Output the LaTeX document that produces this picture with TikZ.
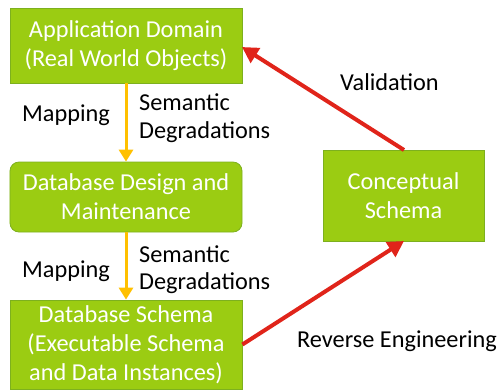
\documentclass[tikz,border=0pt]{standalone}
\usepackage{fontspec}
\setmainfont{Carlito}
\usetikzlibrary{arrows.meta}
\definecolor{boxgreen}{RGB}{155,204,18}
\definecolor{boxedge}{RGB}{125,176,30}
\definecolor{flowyellow}{RGB}{255,192,0}
\definecolor{flowred}{RGB}{224,36,26}
\tikzset{
  stage/.style={draw=boxedge, line width=0.8bp, fill=boxgreen, text=white,
    align=center, inner sep=0pt, font=\fontsize{24.3bp}{29bp}\selectfont},
  lbl/.style={font=\fontsize{24.3bp}{27.5bp}\selectfont, inner sep=0pt, align=left},
  degrade/.style={draw=flowyellow, line width=3bp, -{Triangle[length=12bp,width=14bp]}},
  engineer/.style={draw=flowred, line width=4bp, -{Triangle[length=16bp,width=17bp]}},
}
\begin{document}
\begin{tikzpicture}[x=1bp,y=-1bp]
\useasboundingbox (0,0) rectangle (499,390);
% process boxes
\node[stage, minimum width=232bp, minimum height=75bp] (app) at (126,45.5)
  {Application Domain\\(Real World Objects)};
\node[stage, rounded corners=9bp, minimum width=232bp, minimum height=70bp] (design) at (126,197)
  {Database Design and\\Maintenance};
\node[stage, minimum width=232bp, minimum height=89bp] (schema) at (126,344.5)
  {Database Schema\\(Executable Schema\\and Data Instances)};
\node[stage, minimum width=161bp, minimum height=91bp] (concept) at (403.5,195.5)
  {Conceptual\\Schema};
% forward engineering: semantic degradations
\draw[degrade] (app.south) -- (design.north);
\draw[degrade] (design.south) -- (schema.north);
% reverse engineering and validation
\coordinate (ctop) at (404,150);
\coordinate (cbot) at (404,241);
\draw[engineer] (schema.east) -- (cbot);
\draw[engineer] (ctop) -- (242,47);
% labels
\node[lbl, anchor=west] (map1) at (22,115) {Mapping};
\node[lbl, anchor=west] (sem1) at (139,118) {Semantic\\Degradations};
\node[lbl, anchor=west] (map2) at (22,271) {Mapping};
\node[lbl, anchor=west] (sem2) at (139,269.5) {Semantic\\Degradations};
\node[lbl, anchor=west] (valid) at (340,82) {Validation};
\node[lbl, anchor=west] (rev) at (297,341) {Reverse Engineering};
\end{tikzpicture}
\end{document}
